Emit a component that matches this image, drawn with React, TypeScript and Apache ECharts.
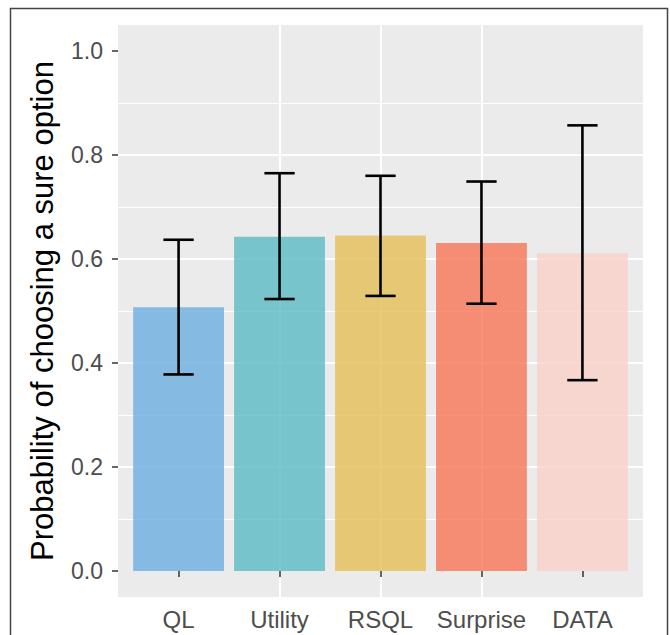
import React, { useEffect, useRef } from "react";
import * as echarts from "echarts";

const categories = ["QL", "Utility", "RSQL", "Surprise", "DATA"];
const means = [0.507, 0.643, 0.645, 0.631, 0.611];
const lower = [0.378, 0.523, 0.529, 0.514, 0.367];
const upper = [0.637, 0.765, 0.760, 0.749, 0.857];
const barColors = [
  "rgba(107,175,224,0.8)",
  "rgba(90,186,196,0.8)",
  "rgba(229,191,86,0.8)",
  "rgba(246,117,86,0.8)",
  "rgba(249,209,199,0.8)",
];
const yTicks = [0, 0.2, 0.4, 0.6, 0.8, 1.0];
const xPositions = categories.map((_, i) => i + 1);

const FONT = "'Liberation Sans', Arial, Helvetica, sans-serif";

export default function App() {
  const ref = useRef<HTMLDivElement>(null);
  useEffect(() => {
    if (!ref.current) return;
    const chart = echarts.init(ref.current, undefined, { renderer: "svg" });
    const gridLeft = 118;
    const gridRight = 27;
    const gridW = 670 - gridLeft - gridRight;
    const band = gridW / 5.2;
    chart.setOption({
      animation: false,
      backgroundColor: "#ffffff",
      graphic: [
        {
          type: "rect",
          shape: { x: 10.5, y: 8.5, width: 657, height: 700 },
          style: { fill: "none", stroke: "#444444", lineWidth: 1.5 },
          z: 100,
        },
      ],
      grid: {
        left: gridLeft,
        right: gridRight,
        top: 25,
        bottom: 38,
        show: true,
        backgroundColor: "#EBEBEB",
        borderWidth: 0,
      },
      xAxis: {
        type: "value",
        min: 0.4,
        max: 5.6,
        axisLine: { show: false },
        axisTick: {
          show: true,
          customValues: xPositions,
          length: 6,
          lineStyle: { color: "#333333", width: 1.5 },
        },
        axisLabel: {
          customValues: xPositions,
          formatter: (v: number) => categories[Math.round(v) - 1] ?? "",
          color: "#4D4D4D",
          fontSize: 24,
          fontFamily: FONT,
          margin: 10,
        },
        splitLine: {
          show: true,
          showMinLine: false,
          showMaxLine: false,
          lineStyle: { color: "#FFFFFF", width: 2 },
        },
        minorSplitLine: { show: false },
      },
      yAxis: {
        type: "value",
        min: -0.05,
        max: 1.05,
        name: "Probability of choosing a sure option",
        nameLocation: "middle",
        nameRotate: 90,
        nameGap: 60,
        nameTextStyle: { color: "#000000", fontSize: 31, fontFamily: FONT },
        axisLine: { show: false },
        axisTick: {
          show: true,
          customValues: yTicks,
          length: 6,
          lineStyle: { color: "#333333", width: 1.5 },
        },
        axisLabel: {
          customValues: yTicks,
          formatter: (v: number) => v.toFixed(1),
          color: "#4D4D4D",
          fontSize: 23,
          fontFamily: FONT,
          margin: 15,
        },
        splitLine: {
          show: true,
          showMinLine: false,
          showMaxLine: false,
          lineStyle: { color: "#FFFFFF", width: 2.2 },
        },
        minorTick: { show: false, splitNumber: 2 },
        minorSplitLine: { show: true, lineStyle: { color: "#FFFFFF", width: 1.1 } },
      },
      series: [
        {
          type: "bar",
          barWidth: band * 0.9,
          data: categories.map((c, i) => ({
            name: c,
            value: [xPositions[i], means[i]],
            itemStyle: { color: barColors[i] },
          })),
        },
        {
          type: "custom",
          data: categories.map((_, i) => [xPositions[i], lower[i], upper[i]]),
          renderItem: (params: any, api: any) => {
            const x = api.value(0);
            const lo = api.coord([x, api.value(1)]);
            const hi = api.coord([x, api.value(2)]);
            const half = api.size([0.15, 0])[0];
            const style = { stroke: "#000000", lineWidth: 2.6 };
            return {
              type: "group",
              children: [
                { type: "line", shape: { x1: lo[0], y1: lo[1], x2: hi[0], y2: hi[1] }, style },
                { type: "line", shape: { x1: hi[0] - half, y1: hi[1], x2: hi[0] + half, y2: hi[1] }, style },
                { type: "line", shape: { x1: lo[0] - half, y1: lo[1], x2: lo[0] + half, y2: lo[1] }, style },
              ],
            };
          },
          z: 10,
        },
      ],
    });
    return () => chart.dispose();
  }, []);
  return (
    <div
      ref={ref}
      style={{ position: "fixed", left: 0, top: 0, width: 670, height: 635 }}
    />
  );
}
